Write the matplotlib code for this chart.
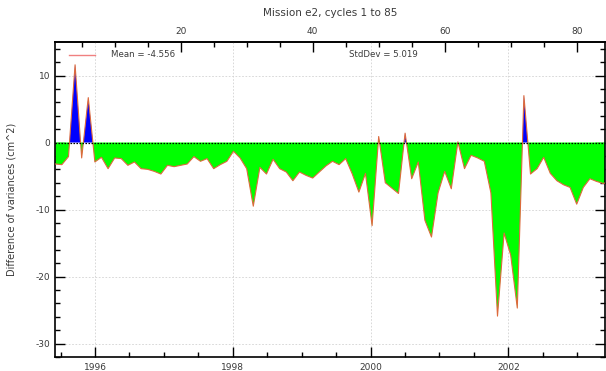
import numpy as np
import matplotlib
matplotlib.use("Agg")
import matplotlib.pyplot as plt
from matplotlib.ticker import MultipleLocator, FixedLocator

# Difference of variances per repeat cycle (cm^2)
cycles = np.arange(1, 86)
diff_var = np.array([
    -3.2, -3.3, -2.1, 11.6, -2.3, 6.7, -2.9, -2.2, -3.9, -2.3,
    -2.4, -3.4, -2.9, -3.9, -4.0, -4.3, -4.7, -3.4, -3.6, -3.4,
    -3.2, -2.1, -2.8, -2.4, -3.9, -3.3, -2.8, -1.3, -2.3, -3.9,
    -9.5, -3.7, -4.7, -2.5, -3.9, -4.4, -5.7, -4.4, -4.9, -5.3,
    -4.4, -3.5, -2.8, -3.3, -2.4, -4.7, -7.4, -4.6, -12.4, 0.9,
    -6.0, -6.8, -7.6, 1.4, -5.4, -2.9, -11.6, -14.1, -7.5, -4.3,
    -6.9, 0.1, -3.9, -1.9, -2.3, -2.8, -7.5, -25.9, -13.5, -16.8,
    -24.7, 7.0, -4.7, -3.9, -2.2, -4.6, -5.7, -6.3, -6.7, -9.2,
    -6.7, -5.4, -5.8, -6.1, -5.9,
])
title = "Mission e2, cycles 1 to 85"
ylabel = "Difference of variances (cm^2)"
mean_label = "Mean = -4.556"
std_label = "StdDev = 5.019"
year_ticks = [1996, 1998, 2000, 2002]
cycle_ticks = [20, 40, 60, 80]

# time of each cycle (decimal years), 35-day repeat
CYCLE_START = 1995.423
CYCLE_LEN = 35.0 / 365.25
t = CYCLE_START + (cycles - 1) * CYCLE_LEN


def year_to_cycle(y):
    return 1 + (np.asarray(y) - CYCLE_START) / CYCLE_LEN


def cycle_to_year(c):
    return CYCLE_START + (np.asarray(c) - 1) * CYCLE_LEN


TXT = "#3a3a3a"
plt.rcParams["font.family"] = ["DejaVu Sans"]
plt.rcParams["axes.unicode_minus"] = False

W, H = 606, 371
fig = plt.figure(figsize=(W / 100, H / 100), dpi=100)
ax = fig.add_axes([55 / W, 1 - 357 / H, 550 / W, (357 - 42) / H])

ax.fill_between(t, diff_var, 0, where=diff_var >= 0, interpolate=True,
                color="#0000ff", lw=0, zorder=2)
ax.fill_between(t, diff_var, 0, where=diff_var <= 0, interpolate=True,
                color="#00ff00", lw=0, zorder=2)
ax.plot(t, diff_var, color="#dd6a3c", lw=0.8, zorder=3)
ax.axhline(0, color="black", ls=(0, (1.2, 1.2)), lw=0.9, zorder=4)

ax.set_xlim(1995.419, 2003.404)
ax.set_ylim(-32, 15)

ax.xaxis.set_major_locator(FixedLocator(year_ticks))
ax.xaxis.set_minor_locator(MultipleLocator(0.5))
ax.yaxis.set_major_locator(MultipleLocator(10))
ax.yaxis.set_minor_locator(MultipleLocator(2))
ax.set_xticklabels([str(y) for y in year_ticks])

ax.grid(True, which="major", ls=(0, (2, 2)), color="#d2d2d2", lw=0.6, zorder=0)
ax.tick_params(which="both", direction="in", top=False, right=True,
               colors="black", labelcolor=TXT, labelsize=6.5, width=1.0)
ax.tick_params(which="major", length=7)
ax.tick_params(which="minor", length=3.5)
ax.tick_params(axis="x", pad=4)
ax.tick_params(axis="y", pad=3.5)
for s in ax.spines.values():
    s.set_linewidth(1.2)

sec = ax.secondary_xaxis("top", functions=(year_to_cycle, cycle_to_year))
sec.xaxis.set_major_locator(FixedLocator(cycle_ticks))
sec.xaxis.set_minor_locator(MultipleLocator(5))
sec.tick_params(which="both", direction="in", colors="black",
                labelcolor=TXT, labelsize=6.5, width=1.0, pad=4)
sec.tick_params(which="major", length=7)
sec.tick_params(which="minor", length=3.5)
sec.spines["top"].set_linewidth(1.2)

ax.set_ylabel(ylabel, fontsize=7, color=TXT)
ax.yaxis.set_label_coords(-0.07, 0.5)
fig.text(0.5 * (55 + 605) / W, 1 - 13 / H, title, ha="center", va="center",
         fontsize=7.5, color=TXT)

# legend-style annotations
ax.plot([0.025, 0.073], [0.959, 0.959], transform=ax.transAxes,
        color="#f08080", lw=1.0, clip_on=False)
ax.text(0.102, 0.959, mean_label, transform=ax.transAxes, fontsize=6.2,
        color=TXT, va="center", ha="left")
ax.text(0.535, 0.959, std_label, transform=ax.transAxes, fontsize=6.2,
        color=TXT, va="center", ha="left")

fig.savefig("out.png", dpi=100)
